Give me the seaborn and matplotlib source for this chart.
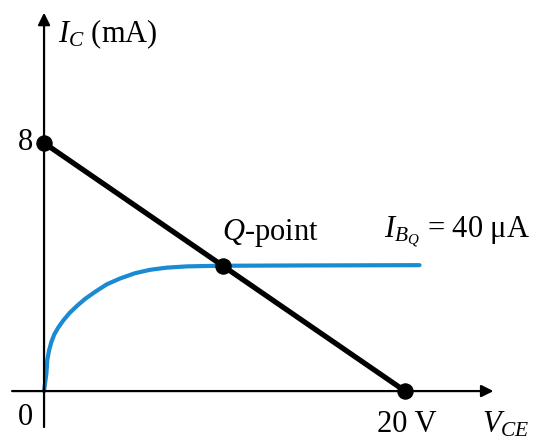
import matplotlib
matplotlib.use("Agg")
import matplotlib.pyplot as plt
import seaborn as sns
import pandas as pd

sns.set_style("white")
plt.rcParams["font.family"] = ["Liberation Serif", "DejaVu Serif"]
plt.rcParams["mathtext.fontset"] = "custom"
plt.rcParams["mathtext.rm"] = "Liberation Serif"
plt.rcParams["mathtext.it"] = "Liberation Serif:italic"
plt.rcParams["text.color"] = "black"

# Load line end points (V_CE in volts, I_C in mA)
load_vce = [0, 20]
load_ic = [8, 0]

# Output characteristic for I_B = 40 uA
curve_vce = [0.0, 0.13, 0.18, 0.28, 0.41, 0.57, 0.79, 1.07, 1.40, 1.81, 2.27,
             2.83, 3.47, 4.21, 5.04, 5.87, 6.80, 7.91, 9.57, 14.0, 20.8]
curve_ic = [0.0, 0.57, 1.00, 1.32, 1.59, 1.83, 2.05, 2.28, 2.51, 2.74, 2.97,
            3.20, 3.44, 3.63, 3.80, 3.91, 3.98, 4.02, 4.04, 4.05, 4.06]

# Marked points: I_C(sat), Q-point, V_CE(cutoff)
pt_vce = [0, 9.9, 20]
pt_ic = [8, 4.04, 0]

curve = pd.DataFrame({"vce": curve_vce, "ic": curve_ic})
load = pd.DataFrame({"vce": load_vce, "ic": load_ic})
pts = pd.DataFrame({"vce": pt_vce, "ic": pt_ic})

fig = plt.figure(figsize=(5.35, 4.41), dpi=100)
ax = fig.add_axes([0, 0, 1, 1])

# Axes with arrow heads
ax.annotate("", xy=(24.9, 0), xytext=(-1.77, 0),
            arrowprops=dict(arrowstyle="-|>", color="black", lw=1.6,
                            mutation_scale=18, shrinkA=0, shrinkB=0))
ax.annotate("", xy=(0, 12.2), xytext=(0, -1.16),
            arrowprops=dict(arrowstyle="-|>", color="black", lw=1.6,
                            mutation_scale=18, shrinkA=0, shrinkB=0))

sns.lineplot(data=curve, x="vce", y="ic", ax=ax, color="#1a8ad2", lw=3.0,
             sort=False, estimator=None)
sns.lineplot(data=load, x="vce", y="ic", ax=ax, color="black", lw=3.8,
             sort=False, estimator=None)
sns.scatterplot(data=pts, x="vce", y="ic", ax=ax, color="black", s=120,
                edgecolor="black", zorder=5)
ax.set_xlabel("")
ax.set_ylabel("")
ax.set_xlim(-2.44, 27.2)
ax.set_ylim(-1.61, 12.61)
ax.axis("off")

fs = 22
ax.text(0.78, 11.26, r"$I_C$ (mA)", fontsize=fs, ha="left", va="baseline")
ax.text(-0.6, 7.77, "8", fontsize=fs, ha="right", va="baseline")
ax.text(-0.6, -1.1, "0", fontsize=fs, ha="right", va="baseline")
ax.text(20.1, -1.31, "20 V", fontsize=fs, ha="center", va="baseline")
ax.text(24.27, -1.35, r"$V_{CE}$", fontsize=fs, ha="left", va="baseline")
ax.text(9.86, 4.87, r"$Q$-point", fontsize=fs, ha="left", va="baseline")
ax.text(26.9, 4.94, r"$I_{B_Q}$ = 40 μA", fontsize=fs, ha="right",
        va="baseline")

fig.savefig("out.png", dpi=100)
